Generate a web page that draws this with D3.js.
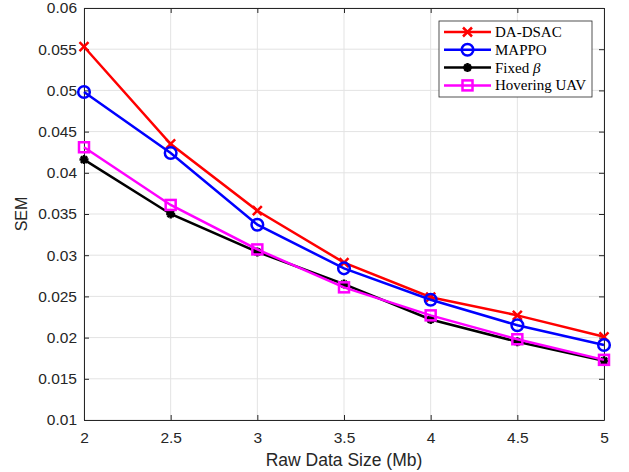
<!DOCTYPE html>
<html>
<head>
<meta charset="utf-8">
<script src="https://cdn.jsdelivr.net/npm/d3@7"></script>
<style>
  body { margin: 0; background: #fff; }
  svg { display: block; }
</style>
</head>
<body>
<script>
// data
const dataSizes = [2, 2.5, 3, 3.5, 4, 4.5, 5];
const daDsac = [0.0553, 0.0435, 0.0354, 0.0291, 0.0249, 0.0227, 0.0201];
const mappo = [0.0498, 0.0424, 0.0337, 0.0284, 0.0246, 0.0215, 0.0191];
const fixedBeta = [0.0416, 0.0350, 0.0304, 0.0265, 0.0222, 0.0195, 0.0172];
const hoveringUav = [0.0431, 0.0361, 0.0307, 0.0261, 0.0227, 0.0198, 0.0173];
const xTicks = [2, 2.5, 3, 3.5, 4, 4.5, 5];
const yTicks = [0.01, 0.015, 0.02, 0.025, 0.03, 0.035, 0.04, 0.045, 0.05, 0.055, 0.06];
const seriesNames = ["DA-DSAC", "MAPPO", "Fixed \u03b2", "Hovering UAV"];
const seriesColors = ["#ff0000", "#0000ff", "#000000", "#ff00ff"];
const seriesMarkers = ["x", "o", "*", "s"];
const seriesValues = [daDsac, mappo, fixedBeta, hoveringUav];

const width = 629, height = 472;
const margin = { top: 8, right: 25, bottom: 52, left: 84 };
const innerW = width - margin.left - margin.right;
const innerH = height - margin.top - margin.bottom;

const svg = d3.select("body").append("svg")
  .attr("width", width)
  .attr("height", height);

const g = svg.append("g")
  .attr("transform", `translate(${margin.left},${margin.top})`);

const x = d3.scaleLinear().domain([2, 5]).range([0, innerW]);
const y = d3.scaleLinear().domain([0.01, 0.06]).range([innerH, 0]);

// grid
g.append("g").selectAll("line").data(xTicks).join("line")
  .attr("x1", d => x(d)).attr("x2", d => x(d))
  .attr("y1", 0).attr("y2", innerH)
  .attr("stroke", "#e3e3e3").attr("stroke-width", 1);
g.append("g").selectAll("line").data(yTicks).join("line")
  .attr("x1", 0).attr("x2", innerW)
  .attr("y1", d => y(d)).attr("y2", d => y(d))
  .attr("stroke", "#e3e3e3").attr("stroke-width", 1);

// axes (ticks pointing inward, box on all sides)
const fmt = d => String(+d.toFixed(3));
const axisStyle = sel => {
  sel.select(".domain").attr("stroke", "#262626").attr("stroke-width", 1);
  sel.selectAll(".tick line").attr("stroke", "#262626");
  sel.selectAll(".tick text")
    .attr("fill", "#262626")
    .style("font-family", "'Liberation Sans', Arial, sans-serif")
    .style("font-size", "15.5px");
};

g.append("g").attr("transform", `translate(0,${innerH})`)
  .call(d3.axisBottom(x).tickValues(xTicks).tickFormat(fmt).tickSizeInner(-5).tickSizeOuter(0).tickPadding(12))
  .call(axisStyle);
g.append("g")
  .call(d3.axisTop(x).tickValues(xTicks).tickFormat("").tickSizeInner(-5).tickSizeOuter(0))
  .call(axisStyle);
g.append("g")
  .call(d3.axisLeft(y).tickValues(yTicks).tickFormat(fmt).tickSizeInner(-5).tickSizeOuter(0).tickPadding(7))
  .call(axisStyle);
g.append("g").attr("transform", `translate(${innerW},0)`)
  .call(d3.axisRight(y).tickValues(yTicks).tickFormat("").tickSizeInner(-5).tickSizeOuter(0))
  .call(axisStyle);

// axis labels
svg.append("text")
  .attr("x", margin.left + innerW / 2)
  .attr("y", 466)
  .attr("text-anchor", "middle")
  .attr("fill", "#262626")
  .style("font-family", "'Liberation Sans', Arial, sans-serif")
  .style("font-size", "17.5px")
  .text("Raw Data Size (Mb)");
svg.append("text")
  .attr("transform", `translate(27,${margin.top + innerH / 2}) rotate(-90)`)
  .attr("text-anchor", "middle")
  .attr("fill", "#262626")
  .style("font-family", "'Liberation Sans', Arial, sans-serif")
  .style("font-size", "16px")
  .text("SEM");

// marker drawing
function drawMarker(sel, type, color) {
  if (type === "x") {
    const s = 4.5;
    sel.append("path").attr("d", `M${-s},${-s}L${s},${s}M${-s},${s}L${s},${-s}`)
      .attr("stroke", color).attr("stroke-width", 2.5).attr("fill", "none");
  } else if (type === "o") {
    sel.append("circle").attr("r", 5.8)
      .attr("stroke", color).attr("stroke-width", 2.5).attr("fill", "none");
  } else if (type === "*") {
    const s = 4.5;
    sel.append("path")
      .attr("d", `M${-s},0L${s},0M0,${-s}L0,${s}M${-s * 0.7},${-s * 0.7}L${s * 0.7},${s * 0.7}M${-s * 0.7},${s * 0.7}L${s * 0.7},${-s * 0.7}`)
      .attr("stroke", color).attr("stroke-width", 2.5).attr("fill", "none");
  } else if (type === "s") {
    sel.append("rect").attr("x", -5).attr("y", -5).attr("width", 10).attr("height", 10)
      .attr("stroke", color).attr("stroke-width", 2.5).attr("fill", "none");
  }
}

const line = d3.line().x(d => x(d[0])).y(d => y(d[1]));

seriesValues.forEach((vals, i) => {
  const pts = dataSizes.map((d, j) => [d, vals[j]]);
  g.append("path")
    .datum(pts)
    .attr("d", line)
    .attr("fill", "none")
    .attr("stroke", seriesColors[i])
    .attr("stroke-width", 2.5);
  g.append("g").selectAll("g").data(pts).join("g")
    .attr("transform", d => `translate(${x(d[0])},${y(d[1])})`)
    .each(function () { drawMarker(d3.select(this), seriesMarkers[i], seriesColors[i]); });
});

// legend
const leg = svg.append("g").attr("transform", "translate(439,21)");
leg.append("rect")
  .attr("width", 153).attr("height", 76)
  .attr("fill", "#fff").attr("stroke", "#262626").attr("stroke-width", 0.8);
seriesNames.forEach((name, i) => {
  const ly = 11 + i * 17.8;
  const row = leg.append("g").attr("transform", `translate(0,${ly})`);
  row.append("line").attr("x1", 5).attr("x2", 52).attr("y1", 0).attr("y2", 0)
    .attr("stroke", seriesColors[i]).attr("stroke-width", 2.5);
  const m = row.append("g").attr("transform", "translate(28.5,0)");
  drawMarker(m, seriesMarkers[i], seriesColors[i]);
  const t = row.append("text").attr("x", 56).attr("y", 5)
    .attr("fill", "#000")
    .style("font-family", "'Liberation Serif', 'Times New Roman', serif")
    .style("font-size", "15px");
  if (name.includes("\u03b2")) {
    t.append("tspan").text("Fixed ");
    t.append("tspan").style("font-style", "italic").text("\u03b2");
  } else {
    t.text(name);
  }
});
</script>
</body>
</html>
